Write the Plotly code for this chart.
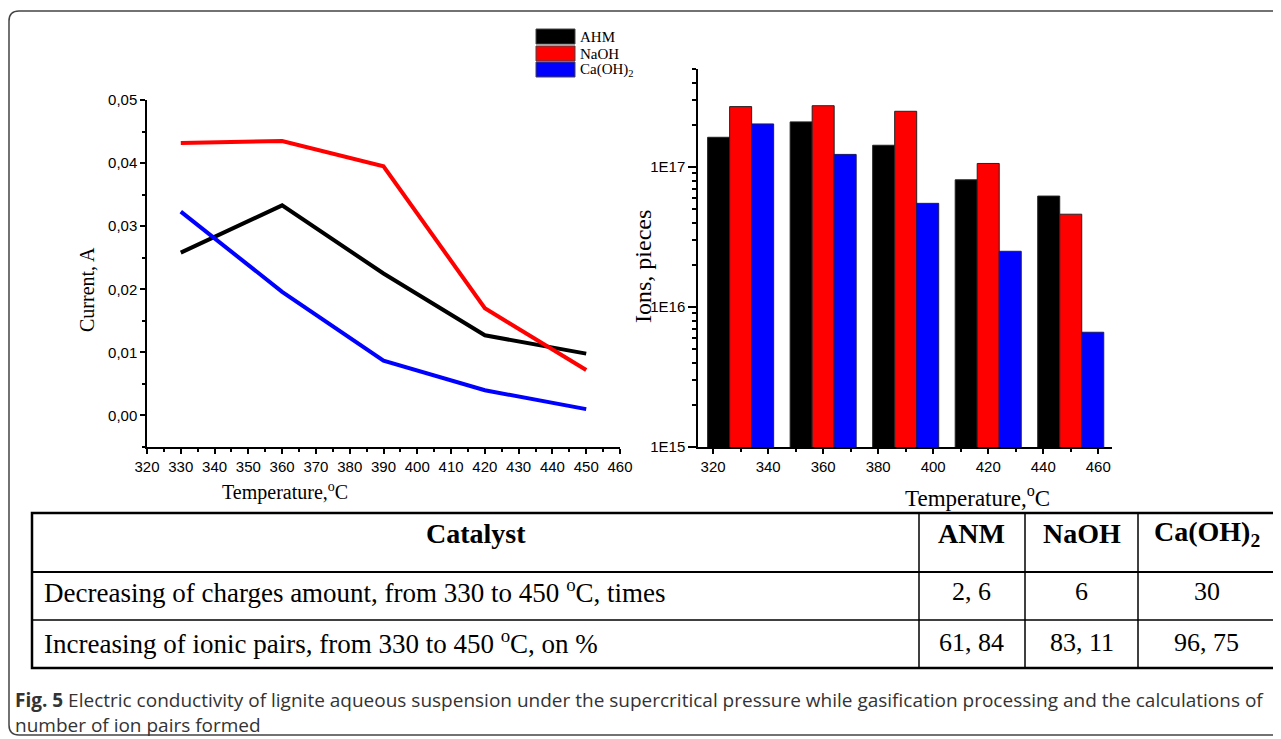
import plotly.graph_objects as go

W, H = 1281, 739
OFF = 8  # page body margin of the viewer, compensated in the layout

# ---------------- data ----------------
temps_line = [330, 360, 390, 420, 450]
current_ahm = [0.0258, 0.0333, 0.0225, 0.0127, 0.0098]
current_naoh = [0.0432, 0.0435, 0.0395, 0.0170, 0.0072]
current_caoh = [0.0323, 0.0196, 0.0087, 0.0040, 0.0010]

temps_bar = [330, 360, 390, 420, 450]
ions_ahm = [1.63e17, 2.10e17, 1.43e17, 8.1e16, 6.2e16]
ions_naoh = [2.70e17, 2.74e17, 2.50e17, 1.06e17, 4.6e16]
ions_caoh = [2.03e17, 1.23e17, 5.5e16, 2.5e16, 6.6e15]

series_names = ["AHM", "NaOH", "Ca(OH)<sub>2</sub>"]
series_colors = ["#000000", "#ff0000", "#0000ff"]
series_edges = ["#222222", "#222222", "#1a1a66"]

left_xtick_vals = list(range(320, 461, 10))
left_ytick_vals = [0.00, 0.01, 0.02, 0.03, 0.04, 0.05]
left_ytick_text = ["0,00", "0,01", "0,02", "0,03", "0,04", "0,05"]

right_xtick_vals = list(range(320, 461, 20))
right_ytick_vals = [1e15, 1e16, 1e17]
right_ytick_text = ["1E15", "1E16", "1E17"]
right_yminor_vals = [m * 10 ** e for e in (15, 16) for m in range(2, 10)] + [2e17, 3e17, 4e17, 5e17]

x_title = "Temperature,<sup>o</sup>C"
left_y_title = "Current, A"
right_y_title = "Ions, pieces"

table_header = ["Catalyst", "ANM", "NaOH", "Ca(OH)<sub>2</sub>"]
table_rows = [
    ["Decreasing of charges amount, from 330 to 450 <sup>o</sup>C, times", "2, 6", "6", "30"],
    ["Increasing of ionic pairs, from 330 to 450 <sup>o</sup>C, on %", "61, 84", "83, 11", "96, 75"],
]
caption_lines = [
    "<b>Fig. 5</b> Electric conductivity of lignite aqueous suspension under the supercritical pressure while gasification processing and the calculations of",
    "number of ion pairs formed",
]

# ---------------- helpers ----------------
def px(x):
    return (x - OFF) / W

def py(y):
    return 1 - (y - OFF) / H

SERIF = "Liberation Serif"
SANS = "Liberation Sans"

fig = go.Figure()

currents = [current_ahm, current_naoh, current_caoh]
for name, col, vals in zip(series_names, series_colors, currents):
    fig.add_trace(go.Scatter(x=temps_line, y=vals, mode="lines", name=name,
                             line=dict(color=col, width=4), showlegend=False,
                             xaxis="x", yaxis="y"))

ions = [ions_ahm, ions_naoh, ions_caoh]
for name, col, edge, vals in zip(series_names, series_colors, series_edges, ions):
    fig.add_trace(go.Bar(x=temps_bar, y=vals, name=name, showlegend=False,
                         marker=dict(color=col, line=dict(color=edge, width=1)),
                         xaxis="x2", yaxis="y2"))

axis_common = dict(showline=True, linecolor="black", linewidth=1.5, showgrid=False,
                   zeroline=False, ticks="outside", ticklen=5, tickwidth=1.5, automargin=False,
                   tickcolor="black", tickfont=dict(family=SANS, size=15, color="black"))

fig.update_layout(
    width=W, height=H,
    margin=dict(l=0, r=0, t=0, b=0, pad=0, autoexpand=False),
    showlegend=False,
    paper_bgcolor="white", plot_bgcolor="white",
    barmode="group", bargap=0.2, bargroupgap=0,
    xaxis=dict(domain=[px(147), px(620)], range=[320, 460], tickmode="array",
               tickvals=left_xtick_vals, anchor="y",
               minor=dict(dtick=5, tick0=320, ticks="outside", ticklen=3, tickwidth=1.5, tickcolor="black"),
               **axis_common),
    yaxis=dict(domain=[py(447), py(100)], range=[-0.005, 0.05], tickmode="array",
               tickvals=left_ytick_vals, ticktext=left_ytick_text, anchor="x",
               minor=dict(dtick=0.005, tick0=0, ticks="outside", ticklen=3, tickwidth=1.5, tickcolor="black"),
               **axis_common),
    xaxis2=dict(domain=[px(698), px(1112)], range=[314.5, 465], tickmode="array",
                tickvals=right_xtick_vals, anchor="y2",
                minor=dict(dtick=10, tick0=320, ticks="outside", ticklen=3, tickwidth=1.5, tickcolor="black"),
                **axis_common),
    yaxis2=dict(domain=[py(447), py(69)], type="log", range=[15, 17.7], tickmode="array",
                tickvals=right_ytick_vals, ticktext=right_ytick_text, anchor="x2",
                minor=dict(tickmode="array", tickvals=right_yminor_vals, ticks="outside", ticklen=4,
                           tickwidth=1.5, tickcolor="black"),
                **{**axis_common, "ticklen": 8}),
)

shapes = []
annotations = []

def text(x, y, s, size, family=SERIF, xanchor="center", angle=0, color="black", align="center"):
    annotations.append(dict(x=px(x), y=py(y), xref="paper", yref="paper", text=s,
                            showarrow=False, xanchor=xanchor, yanchor="middle", textangle=angle,
                            align=align, font=dict(family=family, size=size, color=color)))

# axis titles
text(87, 290, left_y_title, 20, angle=-90)
text(285, 492, x_title, 20)
text(643, 267, right_y_title, 24, angle=-90)
text(978, 496, x_title, 23)

# legend (swatches + labels)
leg_tops = [29, 46, 62]
for name, col, top in zip(series_names, series_colors, leg_tops):
    shapes.append(dict(type="rect", xref="paper", yref="paper", x0=px(536), x1=px(575),
                       y0=py(top + 15), y1=py(top), fillcolor=col,
                       line=dict(color="#444444", width=1)))
    text(578, top + 8, name, 15, xanchor="left")

# table
tx0, tx1, ty0, ty1 = 32, 1275, 513, 668
row_lines = [572, 620]
col_lines = [919, 1025, 1138]
shapes.append(dict(type="rect", xref="paper", yref="paper", x0=px(tx0), x1=px(tx1),
                   y0=py(ty1), y1=py(ty0), line=dict(color="black", width=2.5)))
for i, yl in enumerate(row_lines):
    shapes.append(dict(type="line", xref="paper", yref="paper", x0=px(tx0), x1=px(tx1),
                       y0=py(yl), y1=py(yl), line=dict(color="black", width=2 if i == 0 else 1.5)))
for xl in col_lines:
    shapes.append(dict(type="line", xref="paper", yref="paper", x0=px(xl), x1=px(xl),
                       y0=py(ty1), y1=py(ty0), line=dict(color="black", width=1.5)))

col_bounds = [tx0] + col_lines + [tx1]
col_centers = [(a + b) / 2 for a, b in zip(col_bounds[:-1], col_bounds[1:])]
for c, h in zip(col_centers, table_header):
    text(c, 533, "<b>" + h + "</b>", 28)
row_centers = [591, 642]
for rc, row in zip(row_centers, table_rows):
    text(42, rc, row[0], 27, xanchor="left")
    for c, v in zip(col_centers[1:], row[1:]):
        text(c, rc, v, 26)

# caption (two lines in one text block)
text(13, 712, "<br>".join(caption_lines), 19, family="Open Sans", xanchor="left",
     color="#333333", align="left")

# outer rounded frame
def fp(x, y):
    return f"{px(x):.5f},{py(y):.5f}"

r = 10
path = (f"M {fp(1300, 11)} L {fp(9 + r, 11)} Q {fp(9, 11)} {fp(9, 11 + r)} "
        f"L {fp(9, 735 - r)} Q {fp(9, 735)} {fp(9 + r, 735)} L {fp(1300, 735)}")
shapes.append(dict(type="path", xref="paper", yref="paper", path=path,
                   line=dict(color="#444444", width=1.5)))

fig.update_layout(shapes=shapes, annotations=annotations)
fig.write_html("out.html")
